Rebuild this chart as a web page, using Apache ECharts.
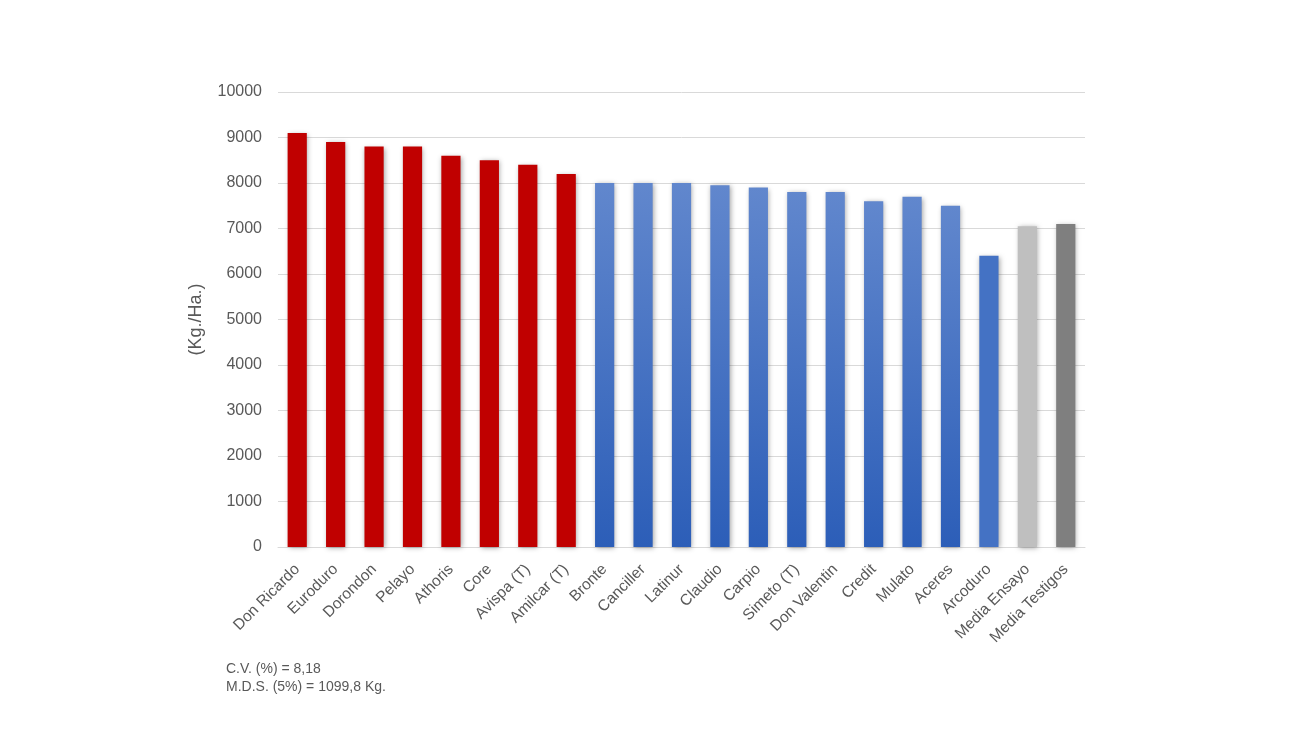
<!DOCTYPE html>
<html>
<head>
<meta charset="utf-8">
<script src="https://cdn.jsdelivr.net/npm/echarts@6/dist/echarts.min.js"></script>
<style>
  html, body { margin: 0; padding: 0; background: #fff; }
  #main { width: 1299px; height: 729px; }
</style>
</head>
<body>
<div id="main"></div>
<script>
const categories = [
  'Don Ricardo', 'Euroduro', 'Dorondon', 'Pelayo', 'Athoris', 'Core',
  'Avispa (T)', 'Amilcar (T)', 'Bronte', 'Canciller', 'Latinur', 'Claudio',
  'Carpio', 'Simeto (T)', 'Don Valentin', 'Credit', 'Mulato', 'Aceres',
  'Arcoduro', 'Media Ensayo', 'Media Testigos'
];
const values = [
  9100, 8900, 8800, 8800, 8600, 8500, 8400, 8200, 8000, 8000, 8000, 7950,
  7900, 7800, 7800, 7600, 7700, 7500, 6400, 7050, 7100
];
// r = red group, b = blue gradient, s = solid blue, g1/g2 = greys
const groups = [
  'r', 'r', 'r', 'r', 'r', 'r', 'r', 'r', 'b', 'b', 'b', 'b',
  'b', 'b', 'b', 'b', 'b', 'b', 's', 'g1', 'g2'
];
const yTicks = { min: 0, max: 10000, interval: 1000 };
const notes = ['C.V. (%) = 8,18', 'M.D.S. (5%) = 1099,8 Kg.'];

const blueGrad = new echarts.graphic.LinearGradient(0, 0, 0, 1, [
  { offset: 0, color: '#6187CD' },
  { offset: 1, color: '#2C5EB8' }
]);
const palette = { r: '#C00000', b: blueGrad, s: '#4472C4', g1: '#BFBFBF', g2: '#7F7F7F' };

const data = values.map((v, i) => ({
  value: v,
  itemStyle: { color: palette[groups[i]] }
}));

const font = 'Liberation Sans, Arial, sans-serif';
const chart = echarts.init(document.getElementById('main'));
chart.setOption({
  animation: false,
  grid: { left: 278, right: 214, top: 92, bottom: 182 },
  xAxis: {
    type: 'category',
    data: categories,
    axisLine: { lineStyle: { color: '#D9D9D9' } },
    axisTick: { show: false },
    axisLabel: {
      rotate: 45,
      interval: 0,
      color: '#595959',
      fontSize: 15.5,
      fontFamily: font,
      margin: 20
    }
  },
  yAxis: {
    type: 'value',
    min: yTicks.min,
    max: yTicks.max,
    interval: yTicks.interval,
    name: '(Kg./Ha.)',
    nameLocation: 'middle',
    nameGap: 73,
    nameTextStyle: { color: '#595959', fontSize: 18, fontFamily: font },
    axisLine: { show: false },
    axisTick: { show: false },
    splitLine: { lineStyle: { color: '#D9D9D9' } },
    axisLabel: {
      color: '#595959',
      fontSize: 16,
      fontFamily: font,
      margin: 16,
      formatter: v => String(v)
    }
  },
  series: [{
    type: 'bar',
    data: data,
    barWidth: '50%',
    itemStyle: {
      shadowBlur: 5,
      shadowColor: 'rgba(0,0,0,0.35)',
      shadowOffsetX: 1,
      shadowOffsetY: 1
    }
  }],
  graphic: [{
    type: 'text',
    left: 226,
    top: 660,
    style: {
      text: notes.join('\n'),
      fill: '#595959',
      fontSize: 14,
      lineHeight: 18,
      fontFamily: font
    }
  }]
});
</script>
</body>
</html>
